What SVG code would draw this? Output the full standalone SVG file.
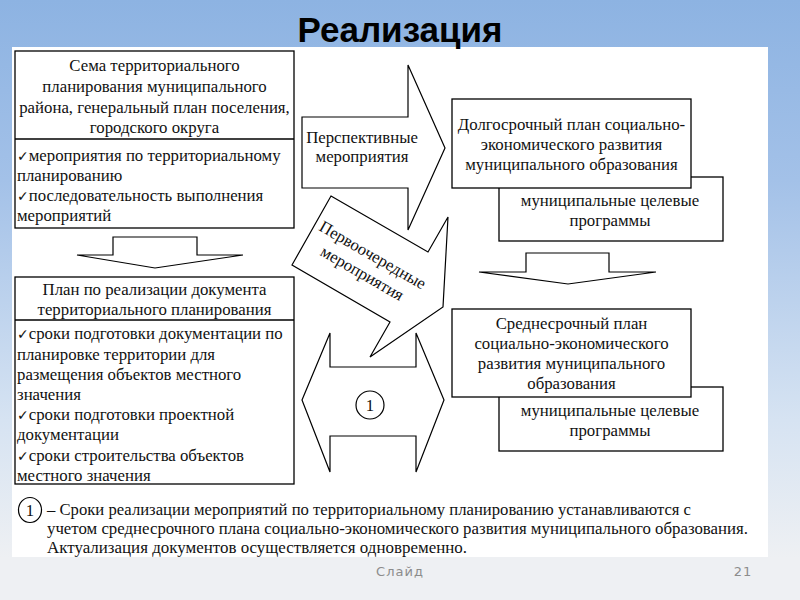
<svg xmlns="http://www.w3.org/2000/svg" width="800" height="600" viewBox="0 0 800 600">
<defs>
<linearGradient id="bg" x1="0" y1="0" x2="0" y2="1">
<stop offset="0" stop-color="#8DB3E2"/>
<stop offset="0.3" stop-color="#A3C1E8"/>
<stop offset="0.7" stop-color="#D6E3F2"/>
<stop offset="0.93" stop-color="#EEF0F3"/>
<stop offset="1" stop-color="#EEF0F3"/>
</linearGradient>
<style>
.box{fill:#fff;stroke:#000;stroke-width:1.3}
.arr{fill:#fff;stroke:#000;stroke-width:1.2;stroke-linejoin:miter}
.t{font-family:"Liberation Serif","Times New Roman",serif;font-size:16.8px;fill:#111}
.c{text-anchor:middle}
.ck{font-family:"DejaVu Sans",sans-serif;font-size:14px}
.ft{font-family:"DejaVu Sans","Noto Sans",sans-serif;font-size:13px;fill:#8c8c8c;letter-spacing:1px;text-anchor:middle}
</style>
</defs>
<rect x="0" y="0" width="800" height="600" fill="url(#bg)"/>
<rect x="12" y="47" width="756" height="510" fill="#fff"/>
<text x="400" y="42" text-anchor="middle" font-family="'Liberation Sans',Arial,sans-serif" font-weight="bold" font-size="35" fill="#000">Реализация</text>

<g id="connectors">
<polygon class="arr" points="113,237 197,237 197,255 243,255 155,268 77,255 113,255"/>
<polygon class="arr" points="302,117 408,117 408,65 445,148 408,230 408,188 302,188"/>
<polygon class="arr" points="526,253 609,253 609,272 656,272 568,284 479,272 526,272"/>
<polygon class="arr" points="302,400 330,333 330,367 416,367 416,333 444,400 416,472 416,436 330,436 330,472"/>
<polygon class="arr" points="331,196 428,252 448,217 443,307 370,357 390,322 292,265"/>
<text class="t c" x="362" y="143">Перспективные</text>
<text class="t c" x="362" y="162">мероприятия</text>
<g transform="translate(367,265) rotate(30)">
<text class="t c" x="0" y="-6">Первоочередные</text>
<text class="t c" x="0" y="15">мероприятия</text>
</g>
<circle cx="370" cy="405" r="14" fill="#fff" stroke="#000" stroke-width="1.2"/>
<text class="t c" x="370" y="411">1</text>
</g>

<g id="scheme">
<rect class="box" x="15" y="51" width="279" height="177"/>
<line x1="15" y1="139" x2="294" y2="139" stroke="#000" stroke-width="1.3"/>
<text class="t c" x="154.5" y="71">Сема территориального</text>
<text class="t c" x="154.5" y="92">планирования муниципального</text>
<text class="t c" x="154.5" y="113">района, генеральный план поселения,</text>
<text class="t c" x="154.5" y="133">городского округа</text>
<text class="t" x="17" y="161"><tspan class="ck">✓</tspan>мероприятия по территориальному</text>
<text class="t" x="17" y="181">планированию</text>
<text class="t" x="17" y="201"><tspan class="ck">✓</tspan>последовательность выполнения</text>
<text class="t" x="17" y="221">мероприятий</text>
</g>

<g id="plan">
<rect class="box" x="15" y="277" width="279" height="207"/>
<line x1="15" y1="320" x2="294" y2="320" stroke="#000" stroke-width="1.3"/>
<text class="t c" x="154.5" y="295">План по реализации документа</text>
<text class="t c" x="154.5" y="315">территориального планирования</text>
<text class="t" x="17" y="339"><tspan class="ck">✓</tspan>сроки подготовки документации по</text>
<text class="t" x="17" y="360">планировке территории для</text>
<text class="t" x="17" y="380">размещения объектов местного</text>
<text class="t" x="17" y="400">значения</text>
<text class="t" x="17" y="420"><tspan class="ck">✓</tspan>сроки подготовки проектной</text>
<text class="t" x="17" y="440">документации</text>
<text class="t" x="17" y="461"><tspan class="ck">✓</tspan>сроки строительства объектов</text>
<text class="t" x="17" y="481">местного значения</text>
</g>

<g id="programs-long">
<rect class="box" x="499" y="177" width="224" height="64"/>
<text class="t c" x="610" y="206">муниципальные целевые</text>
<text class="t c" x="610" y="226">программы</text>
</g>
<g id="long-term">
<rect class="box" x="452" y="99" width="239" height="89"/>
<text class="t c" x="571.5" y="130">Долгосрочный план социально-</text>
<text class="t c" x="571.5" y="150">экономического развития</text>
<text class="t c" x="571.5" y="170">муниципального образования</text>
</g>

<g id="programs-mid">
<rect class="box" x="499" y="387" width="224" height="64"/>
<text class="t c" x="610" y="416">муниципальные целевые</text>
<text class="t c" x="610" y="436">программы</text>
</g>
<g id="mid-term">
<rect class="box" x="452" y="309" width="239" height="88"/>
<text class="t c" x="571.5" y="329">Среднесрочный план</text>
<text class="t c" x="571.5" y="349">социально-экономического</text>
<text class="t c" x="571.5" y="369">развития муниципального</text>
<text class="t c" x="571.5" y="389">образования</text>
</g>

<g id="note">
<ellipse cx="30" cy="510" rx="11.5" ry="12.5" fill="#fff" stroke="#000" stroke-width="1.2"/>
<text class="t c" x="30" y="516">1</text>
<text class="t" x="47" y="515" textLength="644" lengthAdjust="spacingAndGlyphs">– Сроки реализации мероприятий по территориальному планированию устанавливаются с</text>
<text class="t" x="47" y="534" textLength="701" lengthAdjust="spacingAndGlyphs">учетом среднесрочного плана социально-экономического развития муниципального образования.</text>
<text class="t" x="47" y="553" textLength="420" lengthAdjust="spacingAndGlyphs">Актуализация документов осуществляется одновременно.</text>
</g>

<text class="ft" x="400" y="576">Слайд</text>
<text class="ft" x="743" y="576">21</text>
</svg>
